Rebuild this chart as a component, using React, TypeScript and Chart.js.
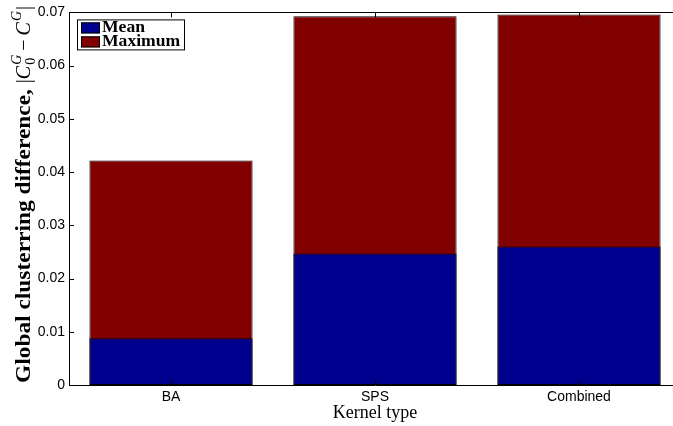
import React, { useEffect, useRef } from "react";
import { Chart, registerables } from "chart.js";

Chart.register(...registerables);

const categories = ["BA", "SPS", "Combined"];
const meanValues = [0.0088, 0.0247, 0.026];
const maxValues = [0.0422, 0.0693, 0.0696];
const yTicks = [0, 0.01, 0.02, 0.03, 0.04, 0.05, 0.06, 0.07];
const seriesLabels = ["Mean", "Maximum"];
const xTitle = "Kernel type";
const yTitleText = "Global clusterring difference, ";

const BLUE = "#00008F";
const RED = "#800000";

const matlabAxes = {
  id: "matlabAxes",
  afterDatasetsDraw(chart: any) {
    const { ctx, chartArea } = chart;
    const { left, right, top, bottom } = chartArea;
    const xs = chart.scales.x;
    const ys = chart.scales.y;
    ctx.save();
    ctx.strokeStyle = "#000";
    ctx.lineWidth = 1;
    ctx.beginPath();
    ctx.rect(Math.round(left) + 0.5, Math.round(top) + 0.5, Math.round(right - left), Math.round(bottom - top));
    ctx.stroke();
    const tl = 5;
    ys.ticks.forEach((t: any) => {
      const y = Math.round(ys.getPixelForValue(t.value)) + 0.5;
      ctx.beginPath();
      ctx.moveTo(left, y);
      ctx.lineTo(left + tl, y);
      ctx.moveTo(right, y);
      ctx.lineTo(right - tl, y);
      ctx.stroke();
    });
    categories.forEach((_, i) => {
      const x = Math.round(xs.getPixelForValue(i)) + 0.5;
      ctx.beginPath();
      ctx.moveTo(x, bottom);
      ctx.lineTo(x, bottom - tl);
      ctx.moveTo(x, top);
      ctx.lineTo(x, top + tl);
      ctx.stroke();
    });
    ctx.restore();
  },
};

const boxLegend = {
  id: "boxLegend",
  afterDraw(chart: any) {
    const { ctx, chartArea } = chart;
    const x0 = chartArea.left + 8;
    const y0 = chartArea.top + 7;
    const w = 107;
    const h = 30;
    ctx.save();
    ctx.fillStyle = "#fff";
    ctx.fillRect(x0, y0, w, h);
    ctx.strokeStyle = "#000";
    ctx.lineWidth = 1;
    ctx.strokeRect(x0 + 0.5, y0 + 0.5, w, h);
    ctx.font = "bold 16px 'Liberation Serif', serif";
    ctx.textBaseline = "alphabetic";
    chart.data.datasets.forEach((ds: any, i: number) => {
      const sy = y0 + 3 + i * 14;
      ctx.fillStyle = ds.backgroundColor;
      ctx.fillRect(x0 + 4, sy, 19, 11);
      ctx.strokeStyle = "#000";
      ctx.strokeRect(x0 + 4.5, sy + 0.5, 18, 10);
      ctx.fillStyle = "#000";
      ctx.save();
      ctx.translate(x0 + 25, sy + 10);
      ctx.scale(1.1, 1);
      ctx.fillText(ds.label, 0, 0);
      ctx.restore();
    });
    ctx.restore();
  },
};

const yTitle = {
  id: "yTitle",
  afterDraw(chart: any) {
    const { ctx, chartArea } = chart;
    ctx.save();
    ctx.translate(30, chartArea.bottom - 2);
    ctx.rotate(-Math.PI / 2);
    ctx.fillStyle = "#000";
    ctx.textAlign = "left";
    ctx.textBaseline = "alphabetic";
    // bold text part (wide, like Computer Modern bold extended)
    ctx.save();
    ctx.scale(1.17, 1);
    ctx.font = "bold 20px 'Liberation Serif', serif";
    ctx.fillText(yTitleText, 0, 0);
    let x = ctx.measureText(yTitleText).width * 1.17;
    ctx.restore();
    const draw = (t: string, font: string, dy = 0) => {
      ctx.font = font;
      ctx.fillText(t, x, dy);
      return ctx.measureText(t).width;
    };
    const mathI = "italic 20px 'Liberation Serif', serif";
    const mathN = "20px 'Liberation Serif', serif";
    const small = "italic 14px 'Liberation Serif', serif";
    const smallN = "14px 'Liberation Serif', serif";
    x += draw("|", mathN);
    x += draw("C", mathI) + 1;
    const w1 = draw("G", small, -9);
    const w2 = draw("0", smallN, 5);
    x += Math.max(w1, w2) + 4;
    x += draw("−", mathN) + 4;
    x += draw("C", mathI) + 1;
    x += draw("G", small, -9) + 1;
    draw("|", mathN);
    ctx.restore();
  },
};

export default function App() {
  const ref = useRef<HTMLCanvasElement>(null);
  useEffect(() => {
    if (!ref.current) return;
    const chart = new Chart(ref.current, {
      type: "bar",
      data: {
        labels: categories,
        datasets: [
          {
            label: seriesLabels[0],
            data: meanValues,
            backgroundColor: BLUE,
            borderColor: "#000",
            borderWidth: 1,
            borderSkipped: false,
          },
          {
            label: seriesLabels[1],
            data: maxValues,
            backgroundColor: RED,
            borderColor: "#000",
            borderWidth: 1,
            borderSkipped: false,
          },
        ],
      },
      options: {
        animation: false,
        responsive: false,
        devicePixelRatio: 1,
        layout: { padding: { top: 8, right: 19, bottom: 0, left: 0 } },
        plugins: { legend: { display: false }, tooltip: { enabled: false } },
        scales: {
          x: {
            stacked: true,
            offset: true,
            grid: { display: false, drawTicks: false },
            border: { display: false },
            ticks: {
              color: "#000",
              padding: 4,
              font: { family: "'Liberation Sans', Arial, sans-serif", size: 14 },
              maxRotation: 0,
            },
            title: {
              display: true,
              text: xTitle,
              color: "#000",
              font: { family: "'Liberation Serif', serif", size: 18 },
              padding: { top: 0, bottom: 2 },
            },
            afterFit(s: any) {
              s.height = 41;
            },
          },
          y: {
            stacked: false,
            min: 0,
            max: 0.07,
            grid: { display: false, drawTicks: false },
            border: { display: false },
            afterBuildTicks(s: any) {
              s.ticks = yTicks.map((v) => ({ value: v }));
            },
            ticks: {
              color: "#000",
              padding: 4,
              font: { family: "'Liberation Sans', Arial, sans-serif", size: 14 },
              callback: (v: any) => (Number(v) === 0 ? "0" : Number(v).toFixed(2)),
            },
            afterFit(s: any) {
              s.width = 69;
            },
          },
        },
        datasets: { bar: { barPercentage: 0.8, categoryPercentage: 1 } },
      } as any,
      plugins: [matlabAxes, boxLegend, yTitle],
    });
    return () => chart.destroy();
  }, []);
  return (
    <div style={{ position: "absolute", left: 0, top: 0, width: 673, height: 426, overflow: "hidden", background: "#fff" }}>
      <canvas ref={ref} width={700} height={426} style={{ display: "block", width: 700, height: 426 }} />
    </div>
  );
}
